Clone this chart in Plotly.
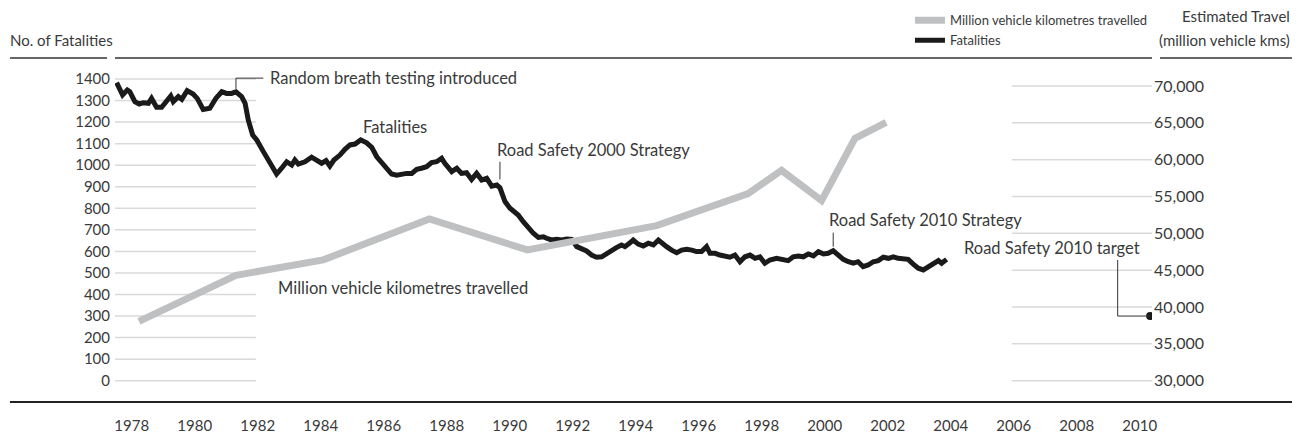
import plotly.graph_objects as go

# ---------------- data ----------------
fat_years = [1978.02, 1978.21, 1978.36, 1978.44, 1978.60, 1978.74, 1978.87, 1979.03, 1979.13, 1979.29,
             1979.45, 1979.56, 1979.74, 1979.82, 1979.98, 1980.09, 1980.26, 1980.45, 1980.58, 1980.77,
             1980.98, 1981.17, 1981.36, 1981.51, 1981.67, 1981.81, 1981.99, 1982.10, 1982.20, 1982.34,
             1982.47, 1982.68, 1982.89, 1983.10, 1983.26, 1983.42, 1983.58, 1983.68, 1983.79, 1984.00,
             1984.21, 1984.37, 1984.53, 1984.67, 1984.79, 1984.92, 1985.11, 1985.27, 1985.43, 1985.59,
             1985.77, 1985.96, 1986.12, 1986.28, 1986.43, 1986.59, 1986.75, 1986.91, 1987.07, 1987.23,
             1987.39, 1987.55, 1987.70, 1987.86, 1988.02, 1988.18, 1988.34, 1988.44, 1988.66, 1988.82,
             1988.97, 1989.13, 1989.29, 1989.45, 1989.61, 1989.77, 1989.93, 1990.09, 1990.19, 1990.35,
             1990.51, 1990.67, 1990.77, 1990.93, 1991.09, 1991.25, 1991.41, 1991.57, 1991.67, 1991.83,
             1991.99, 1992.15, 1992.31, 1992.47, 1992.63, 1992.78, 1992.94, 1993.10, 1993.26, 1993.42,
             1993.58, 1993.74, 1993.90, 1994.05, 1994.16, 1994.32, 1994.42, 1994.58, 1994.74, 1994.90,
             1995.06, 1995.22, 1995.32, 1995.48, 1995.64, 1995.80, 1995.96, 1996.12, 1996.28, 1996.43,
             1996.59, 1996.75, 1996.86, 1997.02, 1997.17, 1997.33, 1997.49, 1997.65, 1997.81, 1997.97,
             1998.13, 1998.29, 1998.44, 1998.60, 1998.76, 1998.97, 1999.18, 1999.34, 1999.50, 1999.66,
             1999.82, 1999.98, 2000.14, 2000.30, 2000.46, 2000.61, 2000.77, 2000.93, 2001.09, 2001.25,
             2001.41, 2001.56, 2001.72, 2001.88, 2002.04, 2002.20, 2002.36, 2002.52, 2002.68, 2002.83,
             2002.99, 2003.15, 2003.31, 2003.47, 2003.63, 2003.79, 2003.95, 2004.11, 2004.21, 2004.37]
fat_values = [1383, 1326, 1349, 1341, 1295, 1284, 1290, 1287, 1310, 1269,
              1269, 1287, 1321, 1295, 1318, 1306, 1346, 1330, 1310, 1259,
              1264, 1310, 1341, 1333, 1333, 1340, 1318, 1287, 1210, 1140,
              1117, 1063, 1009, 959, 986, 1016, 1001, 1024, 1005, 1016,
              1037, 1021, 1009, 1021, 996, 1024, 1047, 1074, 1094, 1098,
              1117, 1104, 1083, 1039, 1016, 986, 959, 954, 959, 962,
              962, 981, 986, 993, 1012, 1016, 1032, 1009, 970, 986,
              962, 965, 934, 962, 931, 939, 903, 908, 895, 831,
              800, 784, 769, 738, 707, 684, 665, 668, 661, 653,
              656, 653, 657, 656, 622, 614, 602, 583, 573, 575,
              591, 606, 619, 630, 622, 640, 653, 634, 625, 638,
              630, 653, 638, 622, 606, 594, 606, 610, 606, 599,
              599, 622, 591, 591, 583, 579, 573, 583, 552, 575,
              583, 568, 575, 545, 560, 568, 563, 557, 575, 579,
              575, 588, 579, 599, 588, 591, 603, 583, 563, 552,
              545, 552, 529, 537, 552, 557, 573, 568, 575, 568,
              568, 563, 541, 522, 514, 529, 548, 557, 545, 563]

travel_years = [1978.73, 1981.81, 1984.58, 1987.95, 1991.06, 1995.16, 1998.07, 1999.13, 2000.40, 2001.46, 2002.45]
travel_values = [38050, 44300, 46400, 51950, 47750, 51050, 55400, 58550, 54450, 62900, 65050]

target_year = [2010.83]
target_value = [300]

year_labels = [str(y) for y in range(1978, 2011, 2)]
fat_ticks = list(range(0, 1401, 100))
travel_ticks = list(range(30000, 70001, 5000))

FONT = "Lato, 'Open Sans', sans-serif"
TXT = "#3a3a3a"
GRID = "#d9d9d9"
BLACK = "#1a1a1a"
GREY = "#bfc0c2"

X0, X1 = 1977.97, 2010.89

fig = go.Figure()

fig.add_trace(go.Scatter(
    x=fat_years, y=fat_values, mode="lines", name="Fatalities",
    line=dict(color=BLACK, width=5), legendgroup="b", yaxis="y"))
fig.add_trace(go.Scatter(
    x=travel_years, y=travel_values, mode="lines", name="Million vehicle kilometres travelled",
    line=dict(color=GREY, width=7), legendgroup="a", yaxis="y2"))
fig.add_trace(go.Scatter(
    x=target_year, y=target_value, mode="markers", showlegend=False,
    marker=dict(color=BLACK, size=8), yaxis="y"))

shapes = []
# partial gridlines
for v in fat_ticks:
    shapes.append(dict(type="line", xref="x", yref="y", x0=X0, x1=1982.44, y0=v, y1=v,
                       line=dict(color=GRID, width=1.5), layer="below"))
for v in travel_ticks:
    shapes.append(dict(type="line", xref="x", yref="y2", x0=2006.44, x1=X1, y0=v, y1=v,
                       line=dict(color=GRID, width=1.5), layer="below"))
# top rules
for a, b in [(-0.1013, -0.0077), (0.0, 1.0), (1.0077, 1.135)]:
    shapes.append(dict(type="line", xref="paper", yref="paper", x0=a, x1=b, y0=1, y1=1,
                       line=dict(color="#666666", width=2)))
# bottom rule
shapes.append(dict(type="line", xref="paper", yref="paper", x0=-0.1013, x1=1.135, y0=0, y1=0,
                   line=dict(color="#222222", width=2)))
# leader lines
LEAD = dict(color="#333333", width=1)
shapes.append(dict(type="path", xref="x", yref="y",
                   path="M 1981.81,1354 L 1981.81,1404 L 1982.68,1404", line=LEAD))
shapes.append(dict(type="line", xref="x", yref="y", x0=1990.19, x1=1990.19, y0=934, y1=1016, line=LEAD))
shapes.append(dict(type="line", xref="x", yref="y", x0=2000.77, x1=2000.77, y0=622, y1=687, line=LEAD))
shapes.append(dict(type="path", xref="x", yref="y",
                   path="M 2009.80,560 L 2009.80,300 L 2010.83,300", line=LEAD))

ann_font = dict(family=FONT, size=16.5, color=TXT)
annotations = [
    dict(x=1982.83, y=1404, text="Random breath testing introduced", xanchor="left", yanchor="middle"),
    dict(x=1986.86, y=1178, text="Fatalities", xanchor="center", yanchor="middle"),
    dict(x=1990.03, y=1070, text="Road Safety 2000 Strategy", xanchor="left", yanchor="middle"),
    dict(x=1983.08, y=430, text="Million vehicle kilometres travelled", xanchor="left", yanchor="middle"),
    dict(x=2000.56, y=746, text="Road Safety 2010 Strategy", xanchor="left", yanchor="middle"),
    dict(x=2004.85, y=614, text="Road Safety 2010 target", xanchor="left", yanchor="middle"),
]
for a in annotations:
    a.update(xref="x", yref="y", showarrow=False, font=ann_font)

small = dict(family=FONT, size=15, color=TXT)
annotations += [
    dict(xref="paper", yref="paper", x=-0.1032, y=1.0 + 18 / 344, text="No. of Fatalities",
         xanchor="left", yanchor="middle", showarrow=False, font=small),
    dict(xref="paper", yref="paper", x=1.135, y=1.0 + 42 / 344, text="Estimated Travel",
         xanchor="right", yanchor="middle", showarrow=False, font=small),
    dict(xref="paper", yref="paper", x=1.135, y=1.0 + 18 / 344, text="(million vehicle kms)",
         xanchor="right", yanchor="middle", showarrow=False, font=small),
]

# the page body keeps its default 8px margin, so the figure is 8px smaller on each axis
fig.update_layout(
    width=1292, height=428,
    margin=dict(l=107, r=148, t=50, b=34, autoexpand=False),
    paper_bgcolor="white", plot_bgcolor="white",
    font=dict(family=FONT, color=TXT),
    showlegend=True,
    legend=dict(x=0.7666, xanchor="left", y=1.153, yanchor="top", orientation="v",
                traceorder="reversed", tracegroupgap=10, bgcolor="rgba(0,0,0,0)",
                font=dict(family=FONT, size=13, color=TXT)),
    xaxis=dict(range=[X0, X1], tickvals=[y + 0.5 for y in range(1978, 2011, 2)], ticktext=year_labels,
               showgrid=False, zeroline=False, showline=False, ticks="",
               tickfont=dict(family=FONT, size=15, color=TXT), ticklabelstandoff=13),
    yaxis=dict(range=[-98.8, 1497.4], tickvals=fat_ticks, showgrid=False, zeroline=False,
               showline=False, ticks="", tickfont=dict(family=FONT, size=15, color=TXT),
               ticklabelstandoff=4),
    yaxis2=dict(range=[27109, 73800], tickvals=travel_ticks, tickformat=",", overlaying="y",
                side="right", showgrid=False, zeroline=False, showline=False, ticks="",
                tickfont=dict(family=FONT, size=16, color=TXT), ticklabelstandoff=1),
    shapes=shapes,
    annotations=annotations,
)

fig.write_html("out.html")
